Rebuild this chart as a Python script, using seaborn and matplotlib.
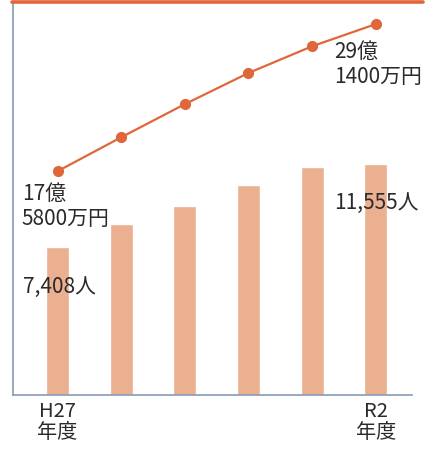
import matplotlib
matplotlib.use("Agg")
import matplotlib.pyplot as plt
import seaborn as sns
import pandas as pd
from matplotlib.lines import Line2D

years = ["H27", "H28", "H29", "H30", "R1", "R2"]
tick_labels = ["H27\n年度", "", "", "", "", "R2\n年度"]
people = [7408, 8560, 9460, 10500, 11400, 11555]
amount = [17.58, 20.25, 22.85, 25.3, 27.4, 29.14]  # 億円
people_labels = ["7,408人", "11,555人"]
amount_labels = ["17億\n5800万円", "29億\n1400万円"]

sns.set_theme(style="white")
plt.rcParams['font.family'] = ['Noto Sans CJK JP', 'DejaVu Sans']

df = pd.DataFrame({"year": years, "people": people, "amount": amount})

W, H = 443, 454
fig = plt.figure(figsize=(W / 100, H / 100), dpi=100)
ax = fig.add_axes([13 / W, 59 / H, (412 - 13) / W, 392 / H])

bar_color = "#ebb090"
line_color = "#e0673a"
spine_color = "#8a9ab8"
text_color = "#2a2a2a"

sns.barplot(data=df, x="year", y="people", color=bar_color, width=0.36,
            saturation=1, ax=ax)
ax.set_xlim(-0.70, 5.57)
ax.set_ylim(0, 19600)

ax2 = ax.twinx()
sns.pointplot(data=df, x="year", y="amount", color=line_color, ax=ax2,
              markers="o", linestyles="-")
for l in ax2.lines:
    l.set_linewidth(1.6)
    l.set_markersize(6)
ax2.set_xlim(-0.70, 5.57)
ax2.set_ylim(0, 30.8)

for a in (ax, ax2):
    a.set_ylabel("")
    a.set_xlabel("")
    a.set_yticks([])
    for s in a.spines.values():
        s.set_visible(False)

ax.spines['left'].set_visible(True)
ax.spines['bottom'].set_visible(True)
ax.spines['left'].set_color(spine_color)
ax.spines['bottom'].set_color(spine_color)
ax.spines['left'].set_linewidth(1.2)
ax.spines['bottom'].set_linewidth(1.2)

ax.set_xticks(range(len(years)))
ax.set_xticklabels(tick_labels, fontsize=14.5, color=text_color, linespacing=1.05)
ax.tick_params(axis='x', length=0, pad=4)
ax2.set_zorder(ax.get_zorder() + 1)
ax2.patch.set_visible(False)

# annotations
fs = 15
ax2.text(-0.56, amount[0] - 0.9, amount_labels[0], fontsize=fs, color=text_color,
         ha="left", va="top", linespacing=1.2)
ax2.text(4.34, amount[-1] - 1.3, amount_labels[1], fontsize=fs, color=text_color,
         ha="left", va="top", linespacing=1.2)
ax.text(-0.54, people[0] - 2000, people_labels[0], fontsize=fs, color=text_color,
        ha="left", va="center")
ax.text(4.35, people[-1] - 1950, people_labels[1], fontsize=fs, color=text_color,
        ha="left", va="center")

# top orange rule
fig.add_artist(Line2D([12 / W, 423 / W], [1 - 1.5 / H, 1 - 1.5 / H],
                      color=line_color, linewidth=2.6, transform=fig.transFigure))

fig.savefig("out.png", dpi=100)
